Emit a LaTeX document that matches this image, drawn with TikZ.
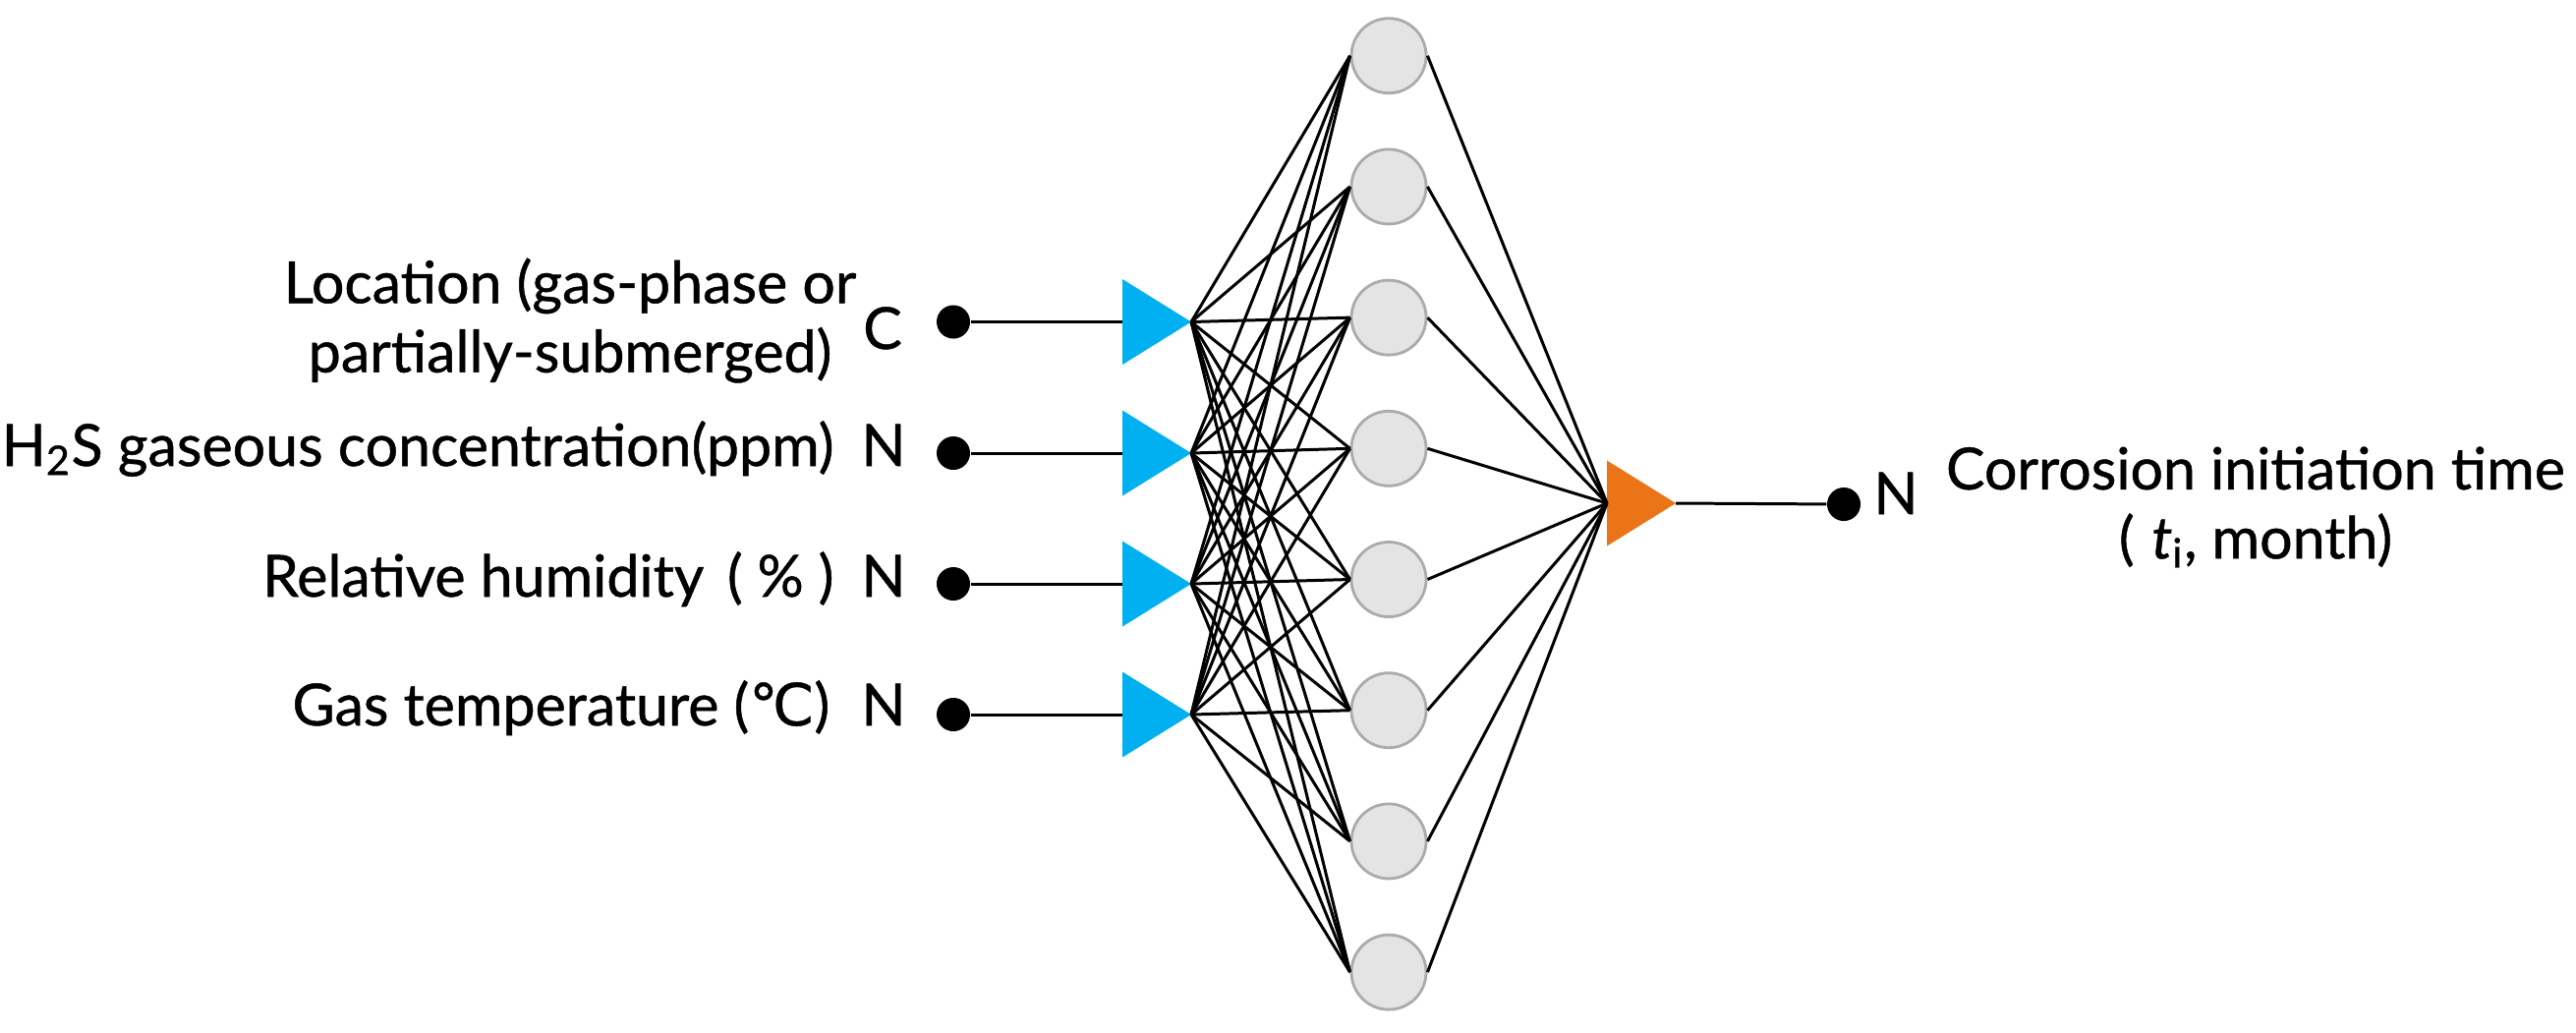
\documentclass[tikz,border=0pt]{standalone}
\usepackage{fontspec}
\setmainfont{Lato}[UprightFeatures={FakeBold=0.8}, ItalicFeatures={FakeBold=0.8}]
\newfontfamily\symbolfont{DejaVu Sans}[FakeBold=0.6]
\usetikzlibrary{shapes.geometric}
\definecolor{inputfill}{HTML}{00B0F0}
\definecolor{outputfill}{HTML}{EB7416}
\definecolor{hiddenfill}{HTML}{E4E4E4}
\definecolor{hiddendraw}{HTML}{ABABAB}
\newcommand{\labelsize}{\fontsize{16.8pt}{20pt}\selectfont}

\begin{document}
\begin{tikzpicture}[
  x=0.01cm, y=-0.01cm,
  font=\labelsize,
  wire/.style={draw=black, line width=0.85pt},
  terminal/.style={circle, fill=black, minimum size=0.34cm, inner sep=0pt},
  unit/.style={
    isosceles triangle, isosceles triangle stretches,
    minimum width=0.87cm, minimum height=0.70cm,
    inner sep=0pt, outer sep=0pt, anchor=lower side
  },
  inputUnit/.style={unit, fill=inputfill},
  outputUnit/.style={unit, fill=outputfill},
  hiddenUnit/.style={
    circle, fill=hiddenfill, draw=hiddendraw, line width=0.8pt,
    minimum size=0.76cm, inner sep=0pt
  },
  varLabel/.style={inner sep=0pt, anchor=base east},
  typeLabel/.style={inner sep=0pt, anchor=base}
]
\useasboundingbox (0,0) rectangle (2621,1050);

% Hidden layer.
\foreach \j in {1,...,8}
  \node[hiddenUnit] (hid\j) at (1413, {56.7+133.2*(\j-1)}) {};

% Input variables, terminals and input units.
\foreach \i/\yy in {1/327.5, 2/461, 3/594, 4/727} {
  \node[terminal] (inDot\i) at (970,\yy) {};
  \node[inputUnit] (inUnit\i) at (1142,\yy) {};
  \draw[wire] (inDot\i) -- (inUnit\i.lower side);
}

\node[inner sep=0pt, align=center] (locLabel) at (580,326)
  {Location (gas-phase or\\partially-submerged)};
\node[typeLabel] (locType) at (898,355) {C};
\node[varLabel] (gasLabel) at (849,474) {H\textsubscript{2}S gaseous concentration(ppm)};
\node[typeLabel] (gasType) at (899,474) {N};
\node[varLabel] (humLabel) at (849,607)
  {Relative humidity\hspace{0.4em}(\hspace{0.25em}\%\hspace{0.25em})};
\node[typeLabel] (humType) at (899,607) {N};
\node[varLabel] (tempLabel) at (845,738) {Gas temperature ({\symbolfont ℃})};
\node[typeLabel] (tempType) at (899,738) {N};

% Output unit.
\node[outputUnit] (outUnit) at (1635,512) {};
\node[terminal] (outDot) at (1876,513) {};
\draw[wire] (outUnit.apex) -- (outDot);
\node[typeLabel] (outType) at (1929,523) {N};
\node[inner sep=0pt, align=center] (outLabel) at (2295,516)
  {Corrosion initiation time\\(\hspace{0.3em}\textit{t}\textsubscript{i}, month)};

% Full connections.
\foreach \i in {1,...,4}
  \foreach \j in {1,...,8}
    \draw[wire] (inUnit\i.apex) -- (hid\j.west);
\foreach \j in {1,...,8}
  \draw[wire] (hid\j.east) -- (outUnit.lower side);

\end{tikzpicture}
\end{document}
